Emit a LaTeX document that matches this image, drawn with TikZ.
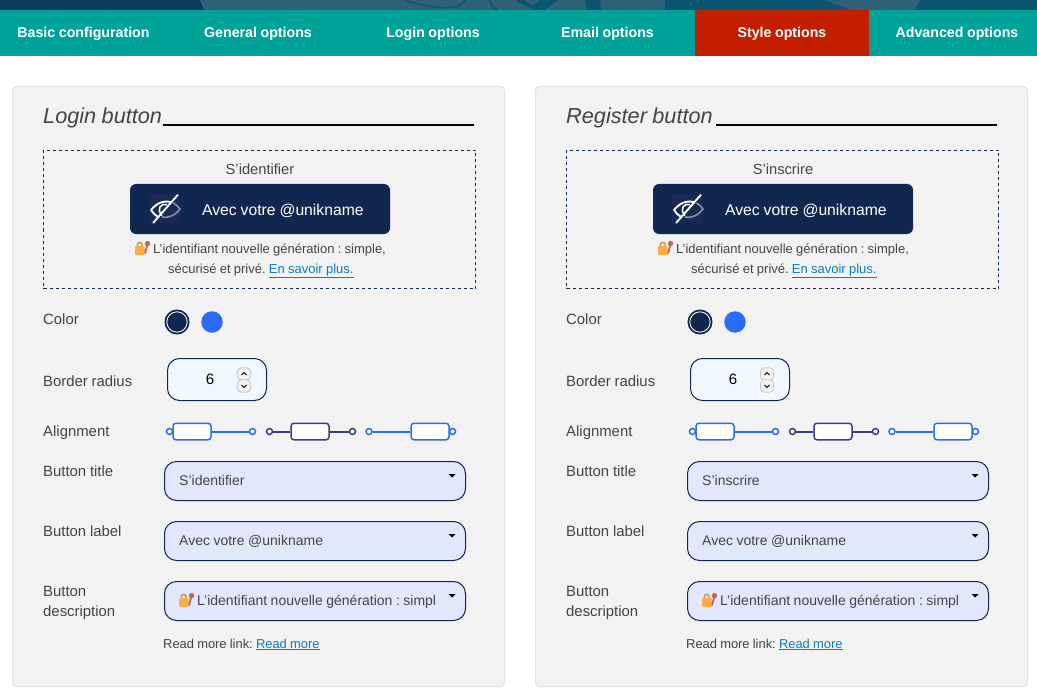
\documentclass[tikz,border=0pt]{standalone}
\usepackage{fontspec}
\setmainfont[WordSpace=0.9]{Liberation Sans}
\usetikzlibrary{shapes.geometric}
\definecolor{teal}{HTML}{00A29A}
\definecolor{redtab}{HTML}{C41E00}
\definecolor{navy}{HTML}{10284F}
\definecolor{panelbg}{HTML}{F2F2F2}
\definecolor{panelline}{HTML}{E6E0E2}
\definecolor{txt}{HTML}{444444}
\definecolor{lnk}{HTML}{0A7DB5}
\definecolor{bluea}{HTML}{2B6CF6}
\definecolor{darka}{HTML}{3B3F7E}
\definecolor{selbg}{HTML}{E3E7FC}
\definecolor{spinbg}{HTML}{F0F7FF}
\definecolor{bannerA}{HTML}{0C3D5F}
\definecolor{bannerB}{HTML}{316178}
\definecolor{bannerC}{HTML}{0B5570}
\definecolor{iconbg}{HTML}{182A55}
\definecolor{lockbody}{HTML}{FBAE3C}
\definecolor{lockkey}{HTML}{C0635A}
\definecolor{lockarc}{HTML}{B8956A}
\newcommand{\fsz}[1]{\fontsize{#1}{#1}\selectfont\frenchspacing}
\newcommand{\ulk}[1]{\underline{#1}}
\tikzset{
  x=1pt,y=-1pt,
  lab/.style={anchor=base west,inner sep=0pt,text=txt,font=\fsz{14.9}},
  tabtxt/.style={anchor=center,inner sep=0pt,text=white,font=\fsz{14.2}\bfseries},
  selbox/.style={draw=navy,fill=selbg,line width=1pt,rounded corners=12pt},
  seltxt/.style={anchor=base west,inner sep=0pt,text=txt,font=\fsz{14}},
  desc/.style={anchor=base,inner sep=0pt,text=txt,font=\fsz{13}},
  alnode/.style={circle,draw=#1,fill=white,line width=1.5pt,minimum size=6pt,inner sep=0pt},
  albox/.style={rectangle,rounded corners=3pt,draw=#1,fill=white,line width=1.5pt,minimum width=38pt,minimum height=16.5pt,inner sep=0pt},
  spin/.style={rectangle,draw=black!22,fill=panelbg,rounded corners=4pt,line width=.8pt,minimum width=13pt,minimum height=12.5pt,inner sep=0pt},
}
% lock emoji drawn as shapes, at (x,y) = top-left
\newcommand{\lockicon}[2]{%
  \begin{scope}[shift={(#1,#2)}]
    \draw[line width=1.4pt,draw=lockarc] (3.2,6) -- (3.2,4) .. controls (3.2,0.5) and (8.2,0.5) .. (8.2,4) -- (8.2,6);
    \fill[rounded corners=1pt,fill=lockbody] (1,5) rectangle (10.5,14);
    \draw[line width=1.8pt,draw=lockkey] (13.5,3) -- (11,12.5);
    \fill[lockkey] (13.5,2.6) circle (2.7pt);
  \end{scope}}
\newcommand{\panel}[6]{% #1 prefix #2 xoffset #3 title #4 rule start #5 top text #6 select text
\begin{scope}[shift={(#2,0)}]
  \draw[panelline,fill=panelbg,line width=1pt,rounded corners=4pt] (12.5,86.5) rectangle (504.5,686.5);
  \node[anchor=base west,inner sep=0pt,text=txt,font=\fsz{21.7}\itshape] (#1title) at (43,124) {#3};
  \draw[black,line width=2pt] (#4,125) -- (474,125);
  \draw[navy,line width=.9pt,dash pattern=on 3pt off 3pt] (43.5,150.5) rectangle (475.5,288.5);
  \node[anchor=base,inner sep=0pt,text=txt,font=\fsz{14.7}] (#1top) at (260,175) {#5};
  \fill[navy,rounded corners=6pt] (130,184) rectangle (390,234);
  % eye-slash icon
  \fill[iconbg] (149,194) rectangle (180,223);
  \draw[white,line width=1.9pt,line join=round] (158,217) .. controls (155,215) and (153,213) .. (151,210) .. controls (156,204) and (163,199.5) .. (172,202.5);
  \draw[white!50!navy,line width=1.6pt] (173.5,203) .. controls (176,204.5) and (178.5,206.5) .. (180,209) .. controls (175,215.5) and (168,218.5) .. (162,217);
  \draw[white,line width=1.5pt] (162,215.5) .. controls (156,209) and (161,203) .. (167,204.5);
  \draw[white,line width=1.9pt,line cap=round] (153.3,222.7) -- (177.7,195);
  \node[anchor=base west,inner sep=0pt,text=white,font=\fsz{15.7}] (#1btn) at (202,215) {Avec votre @unikname};
  \lockicon{134}{241}
  \node[desc,anchor=base west] (#1d1) at (153,253) {L’identifiant nouvelle génération : simple,};
  \node[desc,anchor=base west] (#1d2) at (168,273) {sécurisé et privé. \textcolor{lnk}{\ulk{En savoir plus.}}};
  \node[lab] (#1color) at (43,324) {Color};
  \node[circle,fill=navy,draw=navy,line width=1pt,minimum size=24pt,inner sep=0pt] (#1sw1) at (177,322) {};
  \draw[white,line width=.8pt] (177,322) circle (10.2pt);
  \node[circle,fill=bluea,minimum size=21.5pt,inner sep=0pt] (#1sw2) at (212,322) {};
  \node[lab] (#1br) at (43,386) {Border radius};
  \draw[navy,fill=spinbg,line width=1pt,rounded corners=12pt] (167.5,358.5) rectangle (266.5,400.5);
  \node[anchor=base,inner sep=0pt,font=\fsz{15},text=black] (#1six) at (210,384.5) {6};
  \node[spin] (#1up) at (244,374) {};
  \node[spin] (#1dn) at (244,386) {};
  \draw[black,line width=.9pt] (241.5,375) -- (244,372.5) -- (246.5,375);
  \draw[black,line width=.9pt] (241.5,385) -- (244,387.5) -- (246.5,385);
  \node[lab] (#1al) at (43,436) {Alignment};
  % alignment pictograms
  \node[albox=bluea] (#1a1b) at (192,431.5) {};
  \node[alnode=bluea] (#1a1l) at (169.5,431.5) {};
  \node[alnode=bluea] (#1a1r) at (252.5,431.5) {};
  \draw[draw=bluea,line width=2pt] (#1a1b.east) -- (#1a1r.west);
  \node[albox=darka] (#1a2b) at (310,431.5) {};
  \node[alnode=darka] (#1a2l) at (269.5,431.5) {};
  \node[alnode=darka] (#1a2r) at (352.5,431.5) {};
  \draw[draw=darka,line width=2pt] (#1a2l.east) -- (#1a2b.west);
  \draw[draw=darka,line width=2pt] (#1a2b.east) -- (#1a2r.west);
  \node[albox=bluea] (#1a3b) at (430,431.5) {};
  \node[alnode=bluea] (#1a3l) at (369,431.5) {};
  \node[alnode=bluea] (#1a3r) at (452.5,431.5) {};
  \draw[draw=bluea,line width=2pt] (#1a3l.east) -- (#1a3b.west);
  % selects
  \node[lab] (#1bt) at (43,476) {Button title};
  \draw[selbox] (164.5,461.5) rectangle (465.5,500.5);
  \node[seltxt] (#1s1) at (179,485) {#6};
  \fill[black] (448.5,474) -- (455.5,474) -- (452,477.5) -- cycle;
  \node[lab] (#1bl) at (43,536) {Button label};
  \draw[selbox] (164.5,521.5) rectangle (465.5,560.5);
  \node[seltxt] (#1s2) at (179,545) {Avec votre @unikname};
  \fill[black] (448.5,534) -- (455.5,534) -- (452,537.5) -- cycle;
  \node[lab] (#1bd1) at (43,596) {Button};
  \node[lab] (#1bd2) at (43,616) {description};
  \draw[selbox] (164.5,581.5) rectangle (465.5,620.5);
  \lockicon{178}{593}
  \node[seltxt] (#1s3) at (197,605) {L’identifiant nouvelle génération : simpl};
  \fill[black] (448.5,594) -- (455.5,594) -- (452,597.5) -- cycle;
  \node[anchor=base west,inner sep=0pt,text=txt,font=\fsz{12.9}] (#1rm) at (163,648) {Read more link: \textcolor{lnk}{\ulk{Read more}}};
\end{scope}}
\begin{document}
\begin{tikzpicture}
\useasboundingbox (0,0) rectangle (1037,698);
\fill[white] (0,0) rectangle (1037,698);
% banner
\fill[bannerA] (0,0) rectangle (1037,10);
\fill[bannerB] (200,0) -- (1037,0) -- (1037,10) -- (204,10) -- cycle;
\fill[bannerC] (585,0) -- (600,0) -- (601,10) -- (587,10) -- cycle;
\fill[bannerC] (665,0) -- (824,0) -- (850,10) -- (665,10) -- cycle;
\fill[bannerC] (920,0) -- (1037,0) -- (1037,10) -- (915,10) -- cycle;
\fill[bannerC] (517,2) -- (535,10) -- (545,10) -- (558,0) -- (540,0) -- (533,6) -- (524,0) -- (517,0) -- cycle;
\draw[bannerC,line width=1.4pt] (405,0) .. controls (420,6) and (445,9) .. (455,7) .. controls (462,5) and (464,2) .. (465,0);
\draw[bannerC,line width=1.4pt] (490,0) .. controls (490,4) and (493,8) .. (498,10);
% tabs
\fill[teal] (0,10) rectangle (1037,56);
\fill[redtab] (695,10) rectangle (869,56);
\node[tabtxt] (t1) at (83.5,33.5) {Basic configuration};
\node[tabtxt] (t2) at (258,33.5) {General options};
\node[tabtxt] (t3) at (433,33.5) {Login options};
\node[tabtxt] (t4) at (607.5,33.5) {Email options};
\node[tabtxt] (t5) at (782,33.5) {Style options};
\node[tabtxt] (t6) at (957,33.5) {Advanced options};
\panel{a}{0}{Login button}{163}{S’identifier}{S’identifier}
\panel{b}{523}{Register button}{193}{S’inscrire}{S’inscrire}
\end{tikzpicture}
\end{document}
